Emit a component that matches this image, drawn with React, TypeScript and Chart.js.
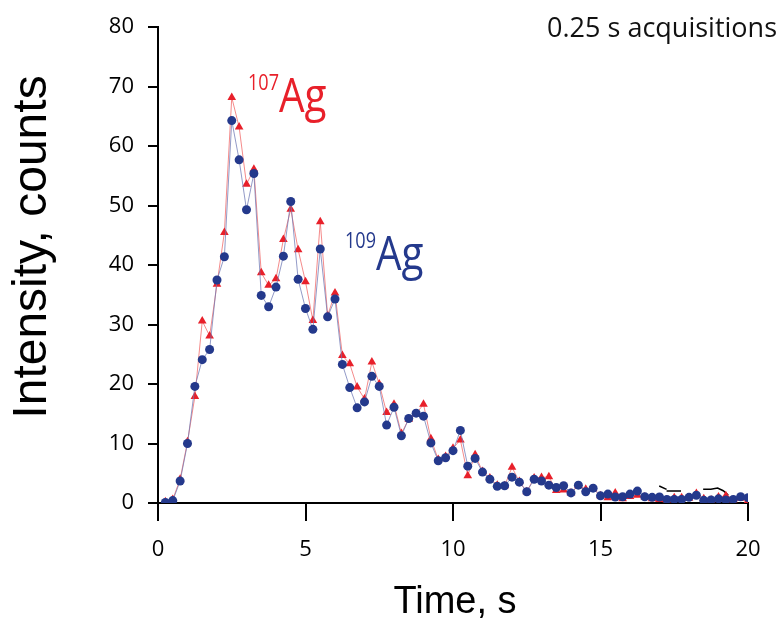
import React, { useEffect, useRef } from "react";
import { Chart, registerables } from "chart.js";

Chart.register(...registerables);

// Acquisition times (s), 0.25 s apart
const times = [
  0.25, 0.5, 0.75, 1.0, 1.25, 1.5, 1.75, 2.0, 2.25, 2.5, 2.75, 3.0, 3.25, 3.5, 3.75, 4.0,
  4.25, 4.5, 4.75, 5.0, 5.25, 5.5, 5.75, 6.0, 6.25, 6.5, 6.75, 7.0, 7.25, 7.5, 7.75, 8.0,
  8.25, 8.5, 8.75, 9.0, 9.25, 9.5, 9.75, 10.0, 10.25, 10.5, 10.75, 11.0, 11.25, 11.5, 11.75, 12.0,
  12.25, 12.5, 12.75, 13.0, 13.25, 13.5, 13.75, 14.0, 14.25, 14.5, 14.75, 15.0, 15.25, 15.5, 15.75, 16.0,
  16.25, 16.5, 16.75, 17.0, 17.25, 17.5, 17.75, 18.0, 18.25, 18.5, 18.75, 19.0, 19.25, 19.5, 19.75, 20.0,
];

// 109Ag intensity (counts)
const ag109 = [
  0.1, 0.4, 3.7, 10.0, 19.6, 24.1, 25.8, 37.5, 41.4, 64.3, 57.7, 49.3, 55.4, 34.9, 33.0, 36.3,
  41.5, 50.7, 37.6, 32.7, 29.2, 42.7, 31.3, 34.3, 23.3, 19.4, 16.0, 17.0, 21.3, 19.6, 13.1, 16.1,
  11.3, 14.2, 15.1, 14.6, 10.1, 7.1, 7.6, 8.8, 12.2, 6.2, 7.5, 5.2, 4.0, 2.8, 2.9, 4.35,
  3.5, 1.9, 4.0, 3.7, 3.0, 2.6, 2.9, 1.7, 3.0, 1.9, 2.5, 1.2, 1.5, 1.0, 1.05, 1.5,
  2.0, 1.05, 0.95, 1.0, 0.6, 0.6, 0.6, 0.95, 1.3, 0.45, 0.5, 0.7, 0.5, 0.6, 1.05, 0.9,
];

// 107Ag intensity (counts)
const ag107 = [
  0.2, 0.6, 4.0, 10.3, 17.9, 30.6, 28.1, 36.8, 45.5, 68.2, 63.2, 53.6, 56.1, 38.7, 36.6, 37.7,
  44.3, 49.4, 42.6, 37.2, 30.7, 47.3, 31.5, 35.3, 24.8, 23.4, 19.5, 17.5, 23.7, 20.0, 15.2, 16.6,
  11.7, 14.1, 15.0, 16.6, 10.8, 7.3, 7.8, 9.2, 10.6, 4.6, 8.1, 5.3, 4.2, 3.0, 2.9, 6.0,
  3.6, 1.9, 4.2, 4.3, 4.4, 2.1, 2.2, 1.7, 2.9, 2.3, 2.4, 1.2, 0.9, 1.7, 0.7, 1.1,
  1.3, 1.0, 0.7, 0.6, 0.5, 0.9, 0.9, 0.8, 1.6, 0.7, 0.5, 1.0, 1.2, 0.5, 0.8, 0.4,
];

// small black stray strokes seen near the baseline
const strokeX = [16.99, 17.24, null, 17.24, 17.73, null, 18.48, 18.74, 18.97, 19.16, 19.33];
const strokeY = [2.85, 2.3, null, 2.0, 2.0, null, 2.3, 2.3, 2.5, 2.06, 1.34];

const xTicks = [0, 5, 10, 15, 20];
const yTicks = [0, 10, 20, 30, 40, 50, 60, 70, 80];

const RED = "#e8202a";
const BLUE = "#24398c";

function drawLabel(ctx: any, sup: string, main: string, x: number, y: number, color: string) {
  ctx.save();
  ctx.fillStyle = color;
  ctx.translate(x, y);
  ctx.scale(0.86, 1);
  ctx.font = '21px "Open Sans"';
  ctx.fillText(sup, 0, -22);
  const w = ctx.measureText(sup).width;
  ctx.font = '47px "Open Sans"';
  ctx.fillText(main, w, 0);
  ctx.restore();
}

const textPlugin = {
  id: "texts",
  afterDraw(chart: any) {
    const ctx = chart.ctx;
    const area = chart.chartArea;
    ctx.save();
    ctx.strokeStyle = "#000";
    ctx.lineWidth = 2;
    ctx.beginPath();
    ctx.moveTo(area.left, area.bottom);
    ctx.lineTo(area.left, area.bottom + 8);
    ctx.moveTo(area.left, area.bottom);
    ctx.lineTo(area.left - 4, area.bottom);
    ctx.stroke();

    ctx.fillStyle = "#111";
    ctx.textBaseline = "alphabetic";
    ctx.font = '27px "Open Sans"';
    ctx.textAlign = "right";
    ctx.fillText("0.25 s acquisitions", 777, 37);
    ctx.textAlign = "left";

    drawLabel(ctx, "107", "Ag", 248, 112, RED);
    drawLabel(ctx, "109", "Ag", 345, 270, BLUE);

    ctx.fillStyle = "#000";
    ctx.font = '38px "Liberation Sans"';
    ctx.textAlign = "center";
    ctx.fillText("Time, s", 455, 613);

    ctx.translate(46, 247);
    ctx.rotate(-Math.PI / 2);
    ctx.font = '48px "Liberation Sans"';
    ctx.fillText("Intensity, counts", 0, 0);
    ctx.restore();
  },
};

export default function App() {
  const ref = useRef<HTMLCanvasElement>(null);
  useEffect(() => {
    const canvas = ref.current!;
    const chart = new Chart(canvas, {
      type: "scatter",
      data: {
        datasets: [
          {
            label: "109Ag",
            data: times.map((t, i) => ({ x: t, y: ag109[i] })),
            showLine: true,
            borderColor: "rgba(110,120,180,0.75)",
            borderWidth: 1,
            backgroundColor: BLUE,
            pointBackgroundColor: BLUE,
            pointBorderColor: BLUE,
            pointBorderWidth: 0,
            pointRadius: 4.5,
            pointStyle: "circle",
          },
          {
            label: "107Ag",
            data: times.map((t, i) => ({ x: t, y: ag107[i] })),
            showLine: true,
            borderColor: "rgba(240,90,90,0.7)",
            borderWidth: 1,
            backgroundColor: RED,
            pointBackgroundColor: RED,
            pointBorderColor: RED,
            pointBorderWidth: 0,
            pointRadius: 5,
            pointStyle: "triangle",
          },
          {
            label: "strokes",
            data: strokeX.map((x, i) => (x === null ? { x: NaN, y: NaN } : { x, y: strokeY[i] as number })),
            showLine: true,
            spanGaps: false,
            borderColor: "#000",
            borderWidth: 1.5,
            pointRadius: 0,
          },
        ],
      },
      options: {
        responsive: false,
        animation: false,
        layout: { padding: { left: 0, right: 36, top: 24, bottom: 0 } },
        plugins: {
          legend: { display: false },
          tooltip: { enabled: false },
          title: { display: false },
        },
        scales: {
          x: {
            type: "linear",
            min: 0,
            max: 20,
            afterFit(scale: any) {
              scale.height = 116;
            },
            afterBuildTicks(scale: any) {
              scale.ticks = xTicks.map((v) => ({ value: v }));
            },
            ticks: {
              color: "#000",
              font: { family: "Open Sans", size: 22 },
              padding: 16,
              maxRotation: 0,
            },
            grid: {
              display: true,
              drawOnChartArea: false,
              drawTicks: true,
              tickLength: 18,
              lineWidth: 2,
              color: "#000",
            },
            border: { display: true, color: "#000", width: 2 },
          },
          y: {
            type: "linear",
            min: 0,
            max: 80,
            afterFit(scale: any) {
              scale.width = 158;
            },
            afterBuildTicks(scale: any) {
              scale.ticks = yTicks.map((v) => ({ value: v }));
            },
            ticks: {
              color: "#000",
              font: { family: "Open Sans", size: 22 },
              padding: 14,
            },
            grid: {
              display: true,
              drawOnChartArea: false,
              drawTicks: true,
              tickLength: 10,
              lineWidth: 2,
              color: "#000",
            },
            border: { display: true, color: "#000", width: 2 },
          },
        },
      },
      plugins: [textPlugin],
    });
    return () => chart.destroy();
  }, []);
  return (
    <div style={{ position: "fixed", left: 0, top: 0, width: 784, height: 619, background: "#fff" }}>
      <canvas ref={ref} width={784} height={619} style={{ display: "block" }} />
    </div>
  );
}
